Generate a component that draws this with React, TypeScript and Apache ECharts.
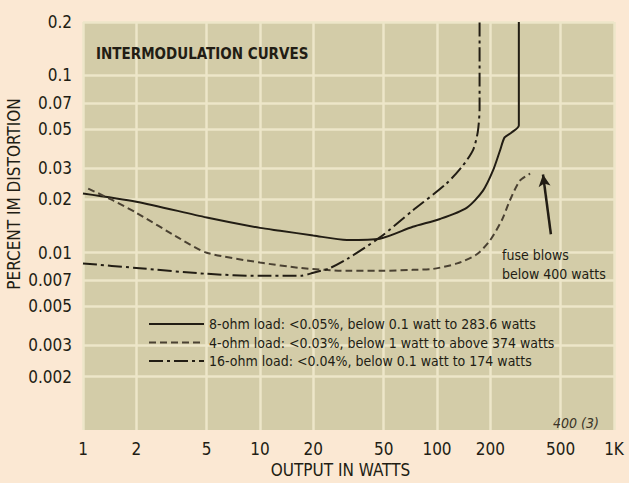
import React, { useEffect, useRef } from "react";
import * as echarts from "echarts";

const FONT = "'Liberation Sans Narrow', 'DejaVu Sans Condensed', 'Roboto Condensed', 'Arial Narrow', 'Liberation Sans', sans-serif";

const xTicks = [1, 2, 5, 10, 20, 50, 100, 200, 500, 1000];
const yTicks = [0.002, 0.003, 0.005, 0.007, 0.01, 0.02, 0.03, 0.05, 0.07, 0.1, 0.2];

const seriesNames = [
  "8-ohm load: <0.05%, below 0.1 watt to 283.6 watts",
  "4-ohm load: <0.03%, below 1 watt to above 374 watts",
  "16-ohm load: <0.04%, below 0.1 watt to 174 watts",
];

const watts8 = [1, 2, 5, 10, 13, 20, 31, 47.6, 73, 104, 147, 182, 207, 227, 241, 264, 290, 290];
const im8 = [0.0216, 0.0194, 0.0158, 0.0138, 0.0133, 0.0125, 0.0118, 0.012, 0.014, 0.0155, 0.0179, 0.0224, 0.029, 0.0377, 0.0447, 0.0476, 0.0522, 0.2];

const watts4 = [1.07, 1.48, 2, 3.53, 5, 10, 17, 31, 47.6, 73, 95, 130, 168, 199, 232, 258, 294, 336];
const im4 = [0.023, 0.0197, 0.0168, 0.012, 0.01, 0.0088, 0.0082, 0.0079, 0.0079, 0.008, 0.0081, 0.0087, 0.0098, 0.0117, 0.0152, 0.0197, 0.0255, 0.0279];

const watts16 = [1, 2, 5, 10, 17, 20, 24.9, 31, 47.6, 73, 113, 140, 160, 170, 174, 174];
const im16 = [0.0087, 0.0082, 0.0076, 0.0074, 0.0074, 0.0077, 0.0082, 0.0092, 0.0122, 0.0173, 0.0245, 0.031, 0.038, 0.048, 0.065, 0.2];

const arrowFrom = [440, 0.0127];
const arrowTo = [397, 0.0276];

const INK = "#221d14";

function zip(xs: number[], ys: number[]) {
  return xs.map((x, i) => [x, ys[i]]);
}

function fmt(v: number) {
  if (Math.abs(v - 1000) < 1) return "1K";
  return String(parseFloat(Number(v).toPrecision(3)));
}

export default function App() {
  const ref = useRef<HTMLDivElement>(null);
  useEffect(() => {
    document.body.style.margin = "0";
    document.body.style.background = "#fbe8d3";
    const chart = echarts.init(ref.current!, undefined, { renderer: "svg" });
    chart.setOption({
      animation: false,
      backgroundColor: "#fbe8d3",
      textStyle: { fontFamily: FONT, color: INK },
      title: {
        text: "INTERMODULATION CURVES",
        left: 96,
        top: 46,
        padding: 0,
        z: 20,
        textStyle: { fontFamily: FONT, fontSize: 15, fontWeight: "bold", color: INK },
      },
      grid: {
        left: 83,
        top: 22,
        width: 531,
        height: 408,
        show: true,
        backgroundColor: "#d3cca8",
        borderWidth: 0,
        containLabel: false,
        outerBoundsMode: "none",
      },
      xAxis: {
        type: "log",
        logBase: 10,
        min: 1,
        max: 1000,
        name: "OUTPUT IN WATTS",
        nameLocation: "middle",
        nameGap: 31,
        nameMoveOverlap: false,
        nameTextStyle: { fontFamily: FONT, fontSize: 17, color: INK, padding: [0, 16, 0, 0] },
        axisLine: { show: false },
        axisTick: { show: false, customValues: xTicks },
        axisLabel: {
          customValues: xTicks,
          formatter: (v: number) => fmt(v),
          fontFamily: FONT,
          fontSize: 17,
          color: INK,
          margin: 10,
        },
        splitLine: { show: true, lineStyle: { color: "#ede6c9", width: 2.5 } },
        minorSplitLine: { show: false },
      },
      yAxis: {
        type: "log",
        logBase: 10,
        min: 0.001,
        max: 0.2,
        name: "PERCENT IM DISTORTION",
        nameLocation: "middle",
        nameGap: 61,
        nameMoveOverlap: false,
        nameTextStyle: { fontFamily: FONT, fontSize: 17, color: INK, padding: [0, 0, 0, 64] },
        axisLine: { show: false },
        axisTick: { show: false, customValues: yTicks },
        axisLabel: {
          customValues: yTicks,
          formatter: (v: number) => fmt(v),
          fontFamily: FONT,
          fontSize: 17,
          color: INK,
          margin: 11,
        },
        splitLine: { show: true, lineStyle: { color: "#ede6c9", width: 2.5 } },
      },
      legend: {
        data: seriesNames,
        orient: "vertical",
        left: 148,
        top: 317,
        padding: 0,
        itemWidth: 55,
        itemHeight: 14,
        itemGap: 4.5,
        selectedMode: false,
        itemStyle: { opacity: 0 },
        textStyle: { fontFamily: FONT, fontSize: 14, color: INK, lineHeight: 14 },
      },
      series: [
        {
          name: seriesNames[0],
          type: "line",
          data: zip(watts8, im8),
          symbol: "none",
          smooth: 0.25,
          lineStyle: { color: INK, width: 2, type: "solid" },
          itemStyle: { color: INK },
        },
        {
          name: seriesNames[1],
          type: "line",
          data: zip(watts4, im4),
          symbol: "none",
          smooth: 0.25,
          lineStyle: { color: "#4a4132", width: 2, type: [7, 4] },
          itemStyle: { color: "#4a4132" },
        },
        {
          name: seriesNames[2],
          type: "line",
          data: zip(watts16, im16),
          symbol: "none",
          smooth: 0.25,
          lineStyle: { color: INK, width: 2, type: [14, 4, 3, 4] },
          itemStyle: { color: INK },
        },
        {
          name: "arrow",
          type: "line",
          data: [],
          symbol: "none",
          markLine: {
            silent: true,
            symbol: ["none", "arrow"],
            symbolSize: [9, 12],
            label: { show: false },
            lineStyle: { color: INK, width: 2.5, type: "solid", curveness: -0.25 },
            data: [[{ coord: arrowFrom }, { coord: arrowTo }]],
          },
        },
      ],
      graphic: [
        {
          type: "text",
          left: 502,
          top: 245,
          z: 100,
          style: {
            text: "fuse blows\nbelow 400 watts",
            fontFamily: FONT,
            fontSize: 14,
            lineHeight: 19,
            fill: INK,
          },
        },
        {
          type: "text",
          left: 553,
          top: 416,
          z: 100,
          style: {
            text: "400 (3)",
            fontFamily: FONT,
            fontSize: 14,
            fontStyle: "italic",
            fill: "#3a3326",
          },
        },
      ],
    });
    return () => chart.dispose();
  }, []);
  return <div ref={ref} style={{ position: "fixed", left: 0, top: 0, width: 629, height: 483 }} />;
}
